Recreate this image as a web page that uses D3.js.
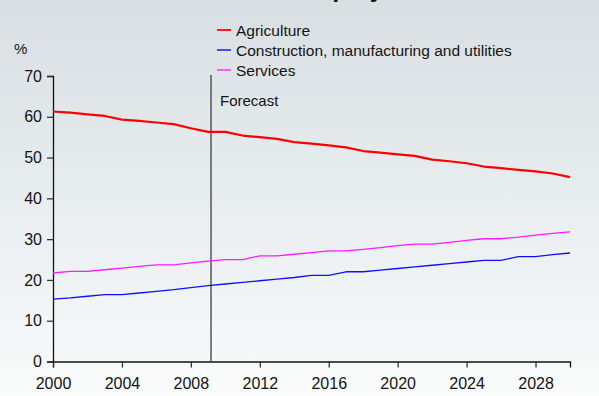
<!DOCTYPE html>
<html>
<head>
<meta charset="utf-8">
<script src="https://cdn.jsdelivr.net/npm/d3@7/dist/d3.min.js"></script>
<style>
  html, body { margin: 0; padding: 0; background: #f4f6f6; }
  svg { display: block; }
  text { font-family: "Liberation Sans", Arial, sans-serif; fill: #141414; }
</style>
</head>
<body>
<svg id="chart" width="599" height="396"></svg>
<script>
// Employment shares by sector (%), actual to 2009 then forecast
const years = d3.range(2000, 2031);
const agriculture = [61.3, 61.0, 60.6, 60.2, 59.3, 59.0, 58.6, 58.2, 57.2, 56.3,
  56.3, 55.4, 55.0, 54.6, 53.8, 53.4, 53.0, 52.5, 51.6, 51.2,
  50.8, 50.4, 49.5, 49.1, 48.6, 47.8, 47.4, 47.0, 46.6, 46.1, 45.2];
const construction = [15.3, 15.6, 16.0, 16.4, 16.4, 16.8, 17.2, 17.6, 18.1, 18.6,
  19.0, 19.4, 19.8, 20.2, 20.6, 21.1, 21.1, 22.0, 22.0, 22.4,
  22.8, 23.2, 23.6, 24.0, 24.4, 24.8, 24.8, 25.7, 25.7, 26.2, 26.6];
const services = [21.7, 22.1, 22.1, 22.5, 22.9, 23.3, 23.7, 23.7, 24.2, 24.6,
  25.0, 25.0, 25.9, 25.9, 26.3, 26.7, 27.1, 27.1, 27.5, 27.9,
  28.4, 28.8, 28.8, 29.2, 29.7, 30.1, 30.1, 30.5, 31.0, 31.4, 31.8];
const seriesNames = ["Agriculture", "Construction, manufacturing and utilities", "Services"];
const xTicks = [2000, 2004, 2008, 2012, 2016, 2020, 2024, 2028];
const yTicks = [0, 10, 20, 30, 40, 50, 60, 70];
const forecastStart = 2009.17;

const svg = d3.select("#chart");
const W = 599, H = 396;

// background wash
const defs = svg.append("defs");
const grad = defs.append("linearGradient").attr("id", "bg")
  .attr("x1", 0).attr("y1", 0).attr("x2", 0).attr("y2", 1);
grad.append("stop").attr("offset", "0%").attr("stop-color", "#d8dfe2");
grad.append("stop").attr("offset", "55%").attr("stop-color", "#eaeef0");
grad.append("stop").attr("offset", "100%").attr("stop-color", "#fafbfb");
svg.append("rect").attr("width", W).attr("height", H).attr("fill", "url(#bg)");

// title, running off the top edge
svg.append("text")
  .attr("x", 317).attr("y", -3)
  .attr("text-anchor", "middle")
  .style("font-size", "25px").style("font-weight", "bold")
  .text("Sectoral employment");

const x = d3.scaleLinear().domain([2000, 2030]).range([53, 570]);
const y = d3.scaleLinear().domain([0, 70]).range([361.5, 76]);

// y axis
const yAxis = svg.append("g").attr("transform", "translate(53,0)")
  .call(d3.axisLeft(y).tickValues(yTicks).tickSize(6).tickPadding(5).tickFormat(d3.format("d")));
yAxis.select(".domain").attr("stroke", "#111").attr("stroke-width", 1.3);
yAxis.selectAll(".tick line").attr("stroke", "#333").attr("stroke-width", 1.3);
yAxis.selectAll(".tick text").style("font-size", "16px").attr("fill", "#141414")
  .style("font-family", "'Liberation Sans', Arial, sans-serif");

// x axis
const xAxis = svg.append("g").attr("transform", `translate(0,${y(0)})`)
  .call(d3.axisBottom(x).tickValues(xTicks).tickSize(6).tickPadding(10).tickFormat(d3.format("d")));
xAxis.select(".domain").attr("stroke", "#111").attr("stroke-width", 1.3);
xAxis.selectAll(".tick line").attr("stroke", "#333").attr("stroke-width", 1.3);
xAxis.selectAll(".tick text").style("font-size", "16px").attr("fill", "#141414")
  .style("font-family", "'Liberation Sans', Arial, sans-serif");

svg.append("text").attr("x", 14).attr("y", 54).style("font-size", "15px").text("%");

// forecast divider
svg.append("line")
  .attr("x1", x(forecastStart)).attr("x2", x(forecastStart))
  .attr("y1", y(70) - 1).attr("y2", y(0))
  .attr("stroke", "#555").attr("stroke-width", 1.5);
svg.append("text").attr("x", x(forecastStart) + 9).attr("y", y(70) + 30)
  .style("font-size", "15px").text("Forecast");

// series lines
const series = [
  { name: seriesNames[0], values: agriculture, color: "#ff0000", width: 2.2, legend: "#ff1a1a" },
  { name: seriesNames[1], values: construction, color: "#1010ff", width: 1.3, legend: "#4a4aff" },
  { name: seriesNames[2], values: services, color: "#ff1aff", width: 1.3, legend: "#ee66ee" }
];
const line = d3.line().x((d, i) => x(years[i])).y(d => y(d));
series.forEach(s => {
  svg.append("path").datum(s.values)
    .attr("d", line)
    .attr("fill", "none")
    .attr("stroke", s.color)
    .attr("stroke-width", s.width)
    .attr("stroke-linejoin", "round");
});

// legend
const legend = svg.append("g").attr("transform", "translate(217,30)");
series.forEach((s, i) => {
  const g = legend.append("g").attr("transform", `translate(0,${i * 20})`);
  g.append("line").attr("x1", 0).attr("x2", 14).attr("y1", 0).attr("y2", 0)
    .attr("stroke", s.legend).attr("stroke-width", 2);
  g.append("text").attr("x", 19).attr("y", 5.5).style("font-size", "15.5px").text(s.name);
});
</script>
</body>
</html>
